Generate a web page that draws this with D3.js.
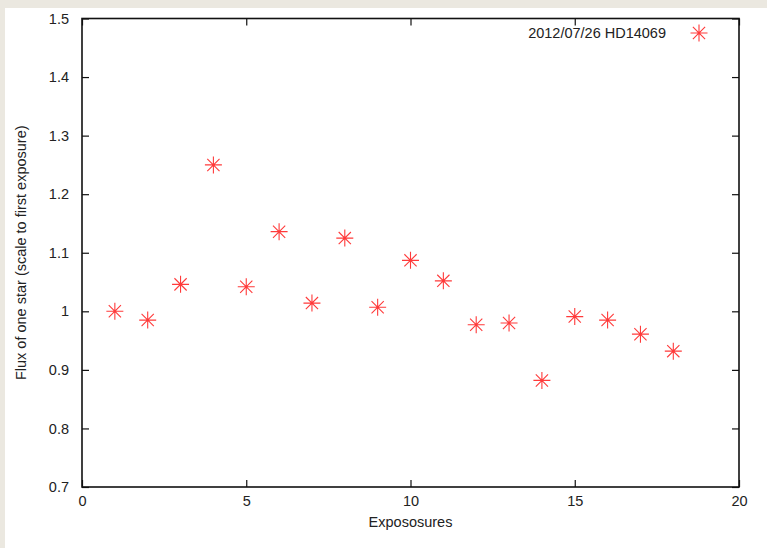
<!DOCTYPE html>
<html lang="en">
<head>
    <meta charset="UTF-8">
    <title>Flux of one star</title>
    <script src="https://d3js.org/d3.v7.min.js"></script>
    <style>
        body { margin: 0; background: #ebe8e0; }
        text { font-family: "Liberation Sans", Arial, sans-serif; fill: #222; }
    </style>
</head>
<body>
    <div id="chart"></div>
    <script>
        // exposure index and relative flux
        const exposures = [1, 2, 3, 4, 5, 6, 7, 8, 9, 10, 11, 12, 13, 14, 15, 16, 17, 18];
        const flux = [1.000, 0.985, 1.046, 1.250, 1.042, 1.136, 1.014, 1.125, 1.007,
                      1.087, 1.052, 0.977, 0.980, 0.882, 0.991, 0.985, 0.961, 0.932];
        const xTicks = [0, 5, 10, 15, 20];
        const yTicks = [0.7, 0.8, 0.9, 1, 1.1, 1.2, 1.3, 1.4, 1.5];
        const seriesName = "2012/07/26 HD14069";

        const width = 767, height = 548;
        const margin = {left: 82, right: 28, top: 18.5, bottom: 61};
        const red = "#ff3a3a";
        const fs = 14.5;

        const svg = d3.select("#chart").append("svg")
            .attr("width", width).attr("height", height);

        // white page over the beige background
        svg.append("rect").attr("x", 5).attr("y", 8)
            .attr("width", width - 5).attr("height", height - 8).attr("fill", "#fff");

        const x = d3.scaleLinear().domain([0, 20]).range([margin.left, width - margin.right]);
        const y = d3.scaleLinear().domain([0.7, 1.5]).range([height - margin.bottom, margin.top]);

        const fmt = d => d3.format("")(+d.toFixed(1));

        // ticks pointing inward, mirrored on all sides
        svg.append("g").attr("transform", `translate(0,${y(0.7)})`)
            .call(d3.axisBottom(x).tickValues(xTicks).tickSize(-7).tickPadding(9).tickFormat(fmt))
            .call(g => g.select(".domain").remove());
        svg.append("g").attr("transform", `translate(0,${y(1.5)})`)
            .call(d3.axisTop(x).tickValues(xTicks).tickSize(-7).tickFormat(""))
            .call(g => g.select(".domain").remove());
        svg.append("g").attr("transform", `translate(${x(0)},0)`)
            .call(d3.axisLeft(y).tickValues(yTicks).tickSize(-7).tickPadding(13).tickFormat(fmt))
            .call(g => g.select(".domain").remove());
        svg.append("g").attr("transform", `translate(${x(20)},0)`)
            .call(d3.axisRight(y).tickValues(yTicks).tickSize(-7).tickFormat(""))
            .call(g => g.select(".domain").remove());

        svg.selectAll(".tick line").attr("stroke", "#111").attr("stroke-width", 1.2);
        svg.selectAll(".tick text").attr("font-size", fs).attr("fill", "#222")
            .attr("font-family", "Liberation Sans, Arial, sans-serif");

        // frame
        svg.append("rect")
            .attr("x", x(0)).attr("y", y(1.5))
            .attr("width", x(20) - x(0)).attr("height", y(0.7) - y(1.5))
            .attr("fill", "none").attr("stroke", "#111").attr("stroke-width", 1.6);

        // asterisk marker (+ and x)
        function star(g, r) {
            const d = r * 0.72;
            g.append("path")
                .attr("d", `M${-r},0H${r}M0,${-r}V${r}M${-d},${-d}L${d},${d}M${-d},${d}L${d},${-d}`)
                .attr("stroke", red).attr("stroke-width", 1.1).attr("fill", "none");
        }

        svg.append("g").selectAll("g")
            .data(exposures.map((e, i) => [e, flux[i]]))
            .join("g")
            .attr("transform", d => `translate(${x(d[0])},${y(d[1])})`)
            .each(function () { star(d3.select(this), 8.5); });

        // legend
        svg.append("text").attr("x", 666).attr("y", 38)
            .attr("text-anchor", "end").attr("font-size", fs).text(seriesName);
        star(svg.append("g").attr("transform", "translate(699,33)"), 8.5);

        // axis titles
        svg.append("text").attr("x", (x(0) + x(20)) / 2).attr("y", 527)
            .attr("text-anchor", "middle").attr("font-size", fs).text("Expososures");
        svg.append("text")
            .attr("transform", `translate(26,${(y(0.7) + y(1.5)) / 2}) rotate(-90)`)
            .attr("text-anchor", "middle").attr("font-size", fs)
            .text("Flux of one star (scale to first exposure)");
    </script>
</body>
</html>
